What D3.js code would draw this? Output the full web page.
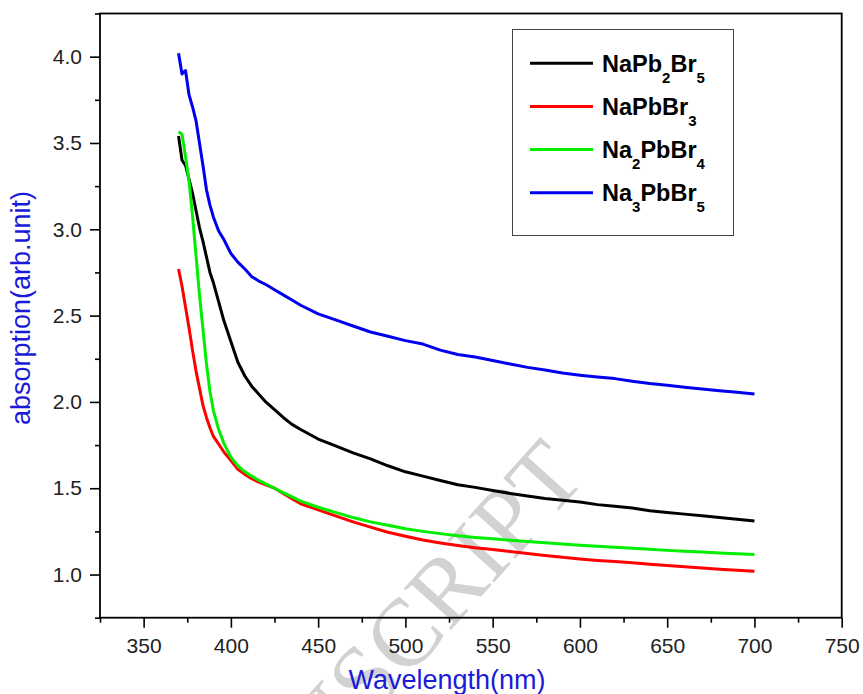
<!DOCTYPE html>
<html>
<head>
<meta charset="utf-8">
<script src="https://cdn.jsdelivr.net/npm/d3@7"></script>
<style>
  html, body { margin: 0; padding: 0; background: #fff; }
  svg { display: block; }
</style>
</head>
<body>
<svg id="chart" width="863" height="694"></svg>
<script>
// Wavelength grid (nm), denser where the absorption edge is steep
const wavelengths = [370, 372, 374, 376, 378, 380, 382, 384, 386, 388, 390, 393, 396, 400, 404, 408, 412, 416, 420, 425, 430, 435, 440, 450, 460, 470, 480, 490, 500, 510, 520, 530, 540, 550, 560, 570, 580, 590, 600, 610, 620, 630, 640, 650, 660, 670, 680, 690, 700];

// Absorption (arb. unit) per sample on the grid above
const naPb2Br5 = [3.54, 3.40, 3.37, 3.29, 3.21, 3.11, 3.01, 2.93, 2.84, 2.75, 2.69, 2.58, 2.47, 2.35, 2.23, 2.15, 2.09, 2.045, 2.00, 1.955, 1.91, 1.87, 1.84, 1.785, 1.745, 1.705, 1.67, 1.63, 1.595, 1.57, 1.545, 1.52, 1.505, 1.487, 1.47, 1.455, 1.44, 1.43, 1.42, 1.405, 1.395, 1.385, 1.37, 1.36, 1.35, 1.34, 1.33, 1.32, 1.31];
const naPbBr3 = [2.77, 2.67, 2.55, 2.43, 2.30, 2.18, 2.08, 1.98, 1.91, 1.85, 1.80, 1.755, 1.71, 1.66, 1.61, 1.58, 1.555, 1.535, 1.52, 1.50, 1.47, 1.44, 1.41, 1.375, 1.34, 1.305, 1.275, 1.245, 1.222, 1.20, 1.183, 1.168, 1.155, 1.145, 1.134, 1.122, 1.11, 1.10, 1.09, 1.082, 1.075, 1.068, 1.06, 1.052, 1.045, 1.038, 1.031, 1.025, 1.019];
const na2PbBr4 = [3.565, 3.55, 3.42, 3.28, 3.08, 2.85, 2.62, 2.42, 2.22, 2.06, 1.95, 1.84, 1.76, 1.68, 1.63, 1.595, 1.57, 1.545, 1.525, 1.50, 1.475, 1.45, 1.425, 1.39, 1.36, 1.33, 1.305, 1.285, 1.265, 1.25, 1.237, 1.225, 1.215, 1.207, 1.199, 1.191, 1.184, 1.177, 1.17, 1.164, 1.158, 1.152, 1.146, 1.14, 1.135, 1.13, 1.125, 1.12, 1.116];
const na3PbBr5 = [4.02, 3.90, 3.92, 3.78, 3.71, 3.63, 3.50, 3.37, 3.23, 3.14, 3.07, 2.99, 2.94, 2.86, 2.81, 2.77, 2.725, 2.70, 2.68, 2.65, 2.62, 2.59, 2.56, 2.51, 2.475, 2.44, 2.405, 2.38, 2.355, 2.335, 2.30, 2.275, 2.26, 2.24, 2.22, 2.20, 2.185, 2.167, 2.155, 2.145, 2.135, 2.12, 2.107, 2.097, 2.085, 2.075, 2.065, 2.056, 2.046];

// Legend names, "_" marks a subscript digit
const seriesNames = ["NaPb_2Br_5", "NaPbBr_3", "Na_2PbBr_4", "Na_3PbBr_5"];
const seriesValues = [naPb2Br5, naPbBr3, na2PbBr4, na3PbBr5];
const seriesColors = ["#000000", "#ff0000", "#00ee00", "#0000ee"];

const xTicks = [350, 400, 450, 500, 550, 600, 650, 700, 750];
const xMinorTicks = [325, 375, 425, 475, 525, 575, 625, 675, 725];
const yTicks = [1.0, 1.5, 2.0, 2.5, 3.0, 3.5, 4.0];
const yMinorTicks = [0.75, 1.25, 1.75, 2.25, 2.75, 3.25, 3.75, 4.25];

const xTitle = "Wavelength(nm)";
const yTitle = "absorption(arb.unit)";

const svg = d3.select("#chart");
const margin = { left: 100, top: 13.5, right: 21.3, bottom: 76.3 };
const W = 863 - margin.left - margin.right;
const H = 694 - margin.top - margin.bottom;

const x = d3.scaleLinear().domain([325, 750]).range([0, W]);
const y = d3.scaleLinear().domain([0.75, 4.25]).range([H, 0]);

// Watermark, behind everything else
svg.append("text")
  .attr("transform", "translate(588,478) rotate(-48)")
  .attr("text-anchor", "end")
  .attr("font-family", "'Liberation Serif', 'Times New Roman', serif")
  .attr("font-size", 96)
  .attr("fill", "#d2d2d2")
  .text("ACCEPTED MANUSCRIPT");

const g = svg.append("g").attr("transform", `translate(${margin.left},${margin.top})`);

const tickFont = "'Liberation Sans', Arial, sans-serif";

// Bottom axis: major and minor ticks
g.append("g").attr("transform", `translate(0,${H})`)
  .call(d3.axisBottom(x).tickValues(xTicks).tickSize(10).tickPadding(10).tickFormat(d3.format("d")));
g.append("g").attr("transform", `translate(0,${H})`)
  .call(d3.axisBottom(x).tickValues(xMinorTicks).tickSize(5).tickFormat(""));

// Left axis: major and minor ticks
g.append("g")
  .call(d3.axisLeft(y).tickValues(yTicks).tickSize(10).tickPadding(8).tickFormat(d3.format(".1f")));
g.append("g")
  .call(d3.axisLeft(y).tickValues(yMinorTicks).tickSize(5).tickFormat(""));

g.selectAll(".domain").remove();
g.selectAll(".tick line").attr("stroke", "#000").attr("stroke-width", 1.6);
g.selectAll(".tick text")
  .attr("font-family", tickFont)
  .attr("font-size", 21)
  .attr("fill", "#222");

// Plot frame
g.append("rect")
  .attr("x", 0).attr("y", 0).attr("width", W).attr("height", H)
  .attr("fill", "none").attr("stroke", "#000").attr("stroke-width", 1.8);

// Curves
const line = d3.line()
  .x((d, i) => x(wavelengths[i]))
  .y(d => y(d));

g.selectAll(".curve")
  .data(seriesValues)
  .join("path")
  .attr("class", "curve")
  .attr("d", line)
  .attr("fill", "none")
  .attr("stroke", (d, i) => seriesColors[i])
  .attr("stroke-width", 3)
  .attr("stroke-linejoin", "round");

// Axis titles
svg.append("text")
  .attr("x", 447).attr("y", 689)
  .attr("text-anchor", "middle")
  .attr("font-family", tickFont)
  .attr("font-size", 27)
  .attr("fill", "#1a1ad8")
  .text(xTitle);

svg.append("text")
  .attr("transform", "translate(30,308) rotate(-90)")
  .attr("text-anchor", "middle")
  .attr("font-family", tickFont)
  .attr("font-size", 27)
  .attr("fill", "#1a1ad8")
  .text(yTitle);

// Legend
const legend = svg.append("g");
legend.append("rect")
  .attr("x", 512.5).attr("y", 29.5).attr("width", 221).attr("height", 206)
  .attr("fill", "#fff").attr("stroke", "#444").attr("stroke-width", 1);

const rowY = d3.scaleLinear().domain([0, 3]).range([63.3, 192.7]);
seriesNames.forEach((name, i) => {
  const yy = rowY(i);
  legend.append("line")
    .attr("x1", 530).attr("x2", 593).attr("y1", yy).attr("y2", yy)
    .attr("stroke", seriesColors[i]).attr("stroke-width", 3);
  const t = legend.append("text")
    .attr("x", 602).attr("y", yy + 8.5)
    .attr("font-family", tickFont)
    .attr("font-weight", "bold")
    .attr("font-size", 23.5)
    .attr("fill", "#000");
  // split into normal runs and subscript digits
  const parts = name.split(/(_\d)/).filter(p => p.length);
  let sub = false;
  parts.forEach(p => {
    if (p.startsWith("_")) {
      t.append("tspan").attr("font-size", 15).attr("dy", sub ? 0 : 11).text(p.slice(1));
      sub = true;
    } else {
      t.append("tspan").attr("dy", sub ? -11 : 0).text(p);
      sub = false;
    }
  });
});
</script>
</body>
</html>
